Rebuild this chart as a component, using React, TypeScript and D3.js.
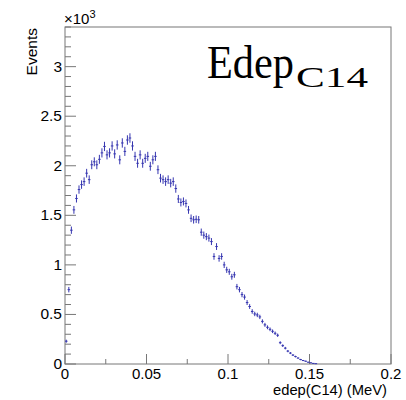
import React from "react";
import * as d3 from "d3";

// Histogram: 128 bins on [0, 0.2] MeV
const xRange = [0, 0.2];
const nBins = 128;
const counts = [
  230, 750, 1350, 1555, 1670, 1760, 1810, 1840, 1925, 1860,
  2010, 2040, 2010, 2065, 2130, 2195, 2110, 2130, 2200, 2120,
  2210, 2060, 2230, 2145, 2260, 2280, 2200, 2095, 2025, 2110,
  2025, 2075, 2095, 1995, 2060, 2095, 1960, 1875, 1860, 1840,
  1860, 1825, 1840, 1770, 1665, 1630, 1640, 1620, 1555, 1470,
  1455, 1460, 1455, 1330, 1300, 1285, 1270, 1235, 1085, 1185,
  1065, 1085, 1000, 950, 930, 880, 900, 780, 750, 700,
  675, 620, 580, 530, 505, 495, 475, 430, 395, 370,
  350, 330, 310, 290, 215, 185, 160, 130, 110, 90,
  75, 60, 45, 35, 28, 18, 12, 6, 3,
];

const xTicks = [0, 0.05, 0.1, 0.15, 0.2];
const xTickLabels = ["0", "0.05", "0.1", "0.15", "0.2"];
const xMinorTicks = [0.025, 0.075, 0.125, 0.175];
const yTicks = [0, 500, 1000, 1500, 2000, 2500, 3000];
const yTickLabels = ["0", "0.5", "1", "1.5", "2", "2.5", "3"];
const yMax = 3400;

const W = 406, H = 400;
const L = 65, R = 391, T = 27, B = 364;
const axisColor = "#777";
const dataColor = "#3535b0";
const font = "'Liberation Sans', Arial, Helvetica, sans-serif";
const serif = "'Liberation Serif', 'Times New Roman', serif";

export default function App() {
  const x = d3.scaleLinear().domain(xRange).range([L, R]);
  const y = d3.scaleLinear().domain([0, yMax]).range([B, T]);
  const bw = (xRange[1] - xRange[0]) / nBins;
  const yMinor = d3.range(0, yMax + 1, 100);

  return (
    <svg width={W} height={H} style={{ position: "absolute", left: 0, top: 0, background: "#fff" }}>
      <rect x={0} y={0} width={W} height={H} fill="#fff" />
      {/* frame */}
      <rect x={L} y={T} width={R - L} height={B - T} fill="none" stroke={axisColor} strokeWidth={1} />
      {/* y ticks */}
      {yMinor.map((v) => {
        const major = v % 500 === 0;
        return (
          <line key={"ym" + v} x1={L} x2={L + (major ? 11 : 6)} y1={y(v)} y2={y(v)} stroke={axisColor} strokeWidth={1} />
        );
      })}
      {yTicks.map((v, i) => (
        <text key={"yl" + v} x={62} y={y(v) + 5} textAnchor="end" fontFamily={font} fontSize={15.5} fill="#000">
          {yTickLabels[i]}
        </text>
      ))}
      {/* x ticks */}
      {xTicks.map((v, i) => (
        <g key={"xt" + v}>
          <line x1={x(v)} x2={x(v)} y1={B} y2={B - 10} stroke={axisColor} strokeWidth={1} />
          <text x={x(v)} y={379} textAnchor="middle" fontFamily={font} fontSize={15} fill="#000">
            {xTickLabels[i]}
          </text>
        </g>
      ))}
      {xMinorTicks.map((v) => (
        <line key={"xm" + v} x1={x(v)} x2={x(v)} y1={B} y2={B - 5} stroke={axisColor} strokeWidth={1} />
      ))}
      {/* axis titles */}
      <text x={273} y={395} fontFamily={font} fontSize={14.5} fill="#000" textLength={114} lengthAdjust="spacingAndGlyphs">
        edep(C14) (MeV)
      </text>
      <text
        transform={`translate(37,28) rotate(-90)`}
        textAnchor="end"
        fontFamily={font}
        fontSize={15.5}
        fill="#000"
      >
        Events
      </text>
      <text x={64} y={24} fontFamily={font} fontSize={15} fill="#000">
        ×10<tspan fontSize={11} dy={-6}>3</tspan>
      </text>
      {/* data with error bars */}
      <g stroke={dataColor} strokeWidth={1} fill="none">
        {counts.map((c, i) => {
          const lo = xRange[0] + i * bw;
          const hi = lo + bw;
          const cx = x(lo + bw / 2);
          const err = Math.sqrt(c);
          return (
            <g key={"b" + i}>
              <line x1={x(lo)} x2={x(hi)} y1={y(c)} y2={y(c)} />
              <line x1={cx} x2={cx} y1={y(c - err)} y2={y(c + err)} />
            </g>
          );
        })}
      </g>
      {/* title */}
      <text x={207} y={78} fontFamily={serif} fontSize={46} fill="#000" textLength={87} lengthAdjust="spacingAndGlyphs">
        Edep
      </text>
      <text x={296} y={87} fontFamily={serif} fontSize={30} fill="#000" textLength={72} lengthAdjust="spacingAndGlyphs">
        C14
      </text>
    </svg>
  );
}
